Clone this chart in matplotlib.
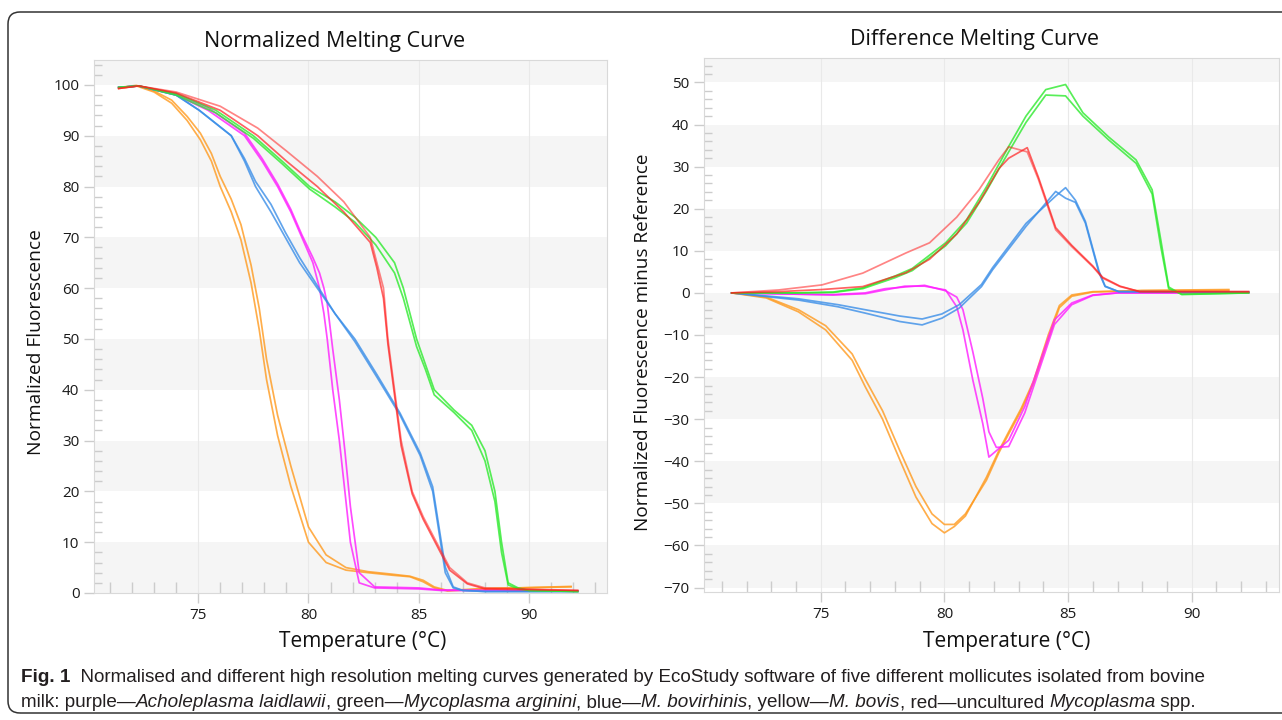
import matplotlib.pyplot as plt
from matplotlib.patches import FancyBboxPatch
from matplotlib.transforms import IdentityTransform
from matplotlib.ticker import MultipleLocator

# ---------------- normalized melting curve (2 replicate traces per isolate) -------------
norm_orange_t = [71.4, 72.2, 73.0, 73.8, 74.5, 75.1, 75.6, 76.0, 76.5, 76.94, 77.4, 77.77, 78.1,
                 78.6, 79.2, 80.0, 80.8, 81.7, 82.7, 83.8, 84.6, 85.2, 85.7, 86.3, 88.0, 91.9]
norm_orange_1 = [99.3, 99.8, 98.6, 96.4, 93.0, 89.2, 85.0, 80.0, 75.0, 69.5, 61.0, 51.8, 42.0,
                 31.0, 21.0, 10.0, 6.0, 4.5, 4.0, 3.5, 3.2, 2.2, 1.0, 0.4, 0.8, 1.3]
norm_orange_2 = [99.5, 99.9, 98.8, 97.0, 93.8, 90.5, 86.5, 82.0, 77.5, 72.5, 64.5, 56.0, 46.0,
                 35.0, 25.0, 13.0, 7.5, 5.0, 4.2, 3.7, 3.3, 2.5, 1.2, 0.5, 0.9, 1.2]

norm_magenta_t = [71.4, 72.3, 74.0, 75.45, 77.1, 77.9, 78.6, 79.2, 79.7, 80.2, 80.5, 80.7, 80.85,
                  81.1, 81.4, 81.65, 81.9, 82.3, 83.0, 85.0, 86.0, 92.2]
norm_magenta_1 = [99.5, 99.8, 98.0, 95.0, 90.0, 85.0, 80.0, 75.0, 70.0, 65.0, 60.0, 55.0, 50.0,
                  40.0, 30.0, 20.0, 10.0, 2.0, 1.0, 0.8, 0.5, 0.4]
norm_magenta_2 = [99.5, 99.8, 98.2, 95.5, 90.5, 85.5, 80.5, 75.5, 70.5, 66.0, 63.0, 60.0, 57.0,
                  48.0, 38.0, 28.0, 17.0, 4.0, 1.2, 1.0, 0.6, 0.4]

norm_blue_t = [71.4, 72.3, 74.0, 75.05, 76.5, 77.1, 77.6, 78.3, 78.95, 79.6, 80.4, 81.2, 82.1,
               83.1, 84.15, 85.07, 85.63, 86.2, 86.56, 87.0, 88.0, 92.2]
norm_blue_1 = [99.5, 99.8, 98.0, 95.0, 90.0, 85.0, 80.0, 75.0, 70.0, 65.0, 60.0, 55.0, 50.0,
               43.0, 35.4, 27.5, 20.9, 5.1, 1.2, 0.5, 0.3, 0.3]
norm_blue_2 = [99.5, 99.8, 98.0, 95.0, 90.0, 85.5, 81.0, 76.5, 71.0, 66.0, 60.5, 55.0, 49.5,
               42.5, 35.0, 27.0, 20.0, 4.0, 1.0, 0.5, 0.3, 0.3]

norm_green_t = [71.4, 72.3, 74.0, 75.8, 77.5, 78.8, 80.05, 81.2, 82.1, 83.05, 83.9, 84.3, 84.9,
                85.3, 85.7, 86.6, 87.4, 88.0, 88.45, 88.75, 89.05, 89.5, 90.0, 92.2]
norm_green_1 = [99.5, 99.8, 98.3, 95.0, 90.0, 85.0, 80.0, 77.0, 74.0, 70.0, 65.0, 60.0, 50.0,
                45.0, 40.0, 36.0, 33.0, 28.0, 20.0, 10.0, 2.0, 1.0, 0.5, 0.3]
norm_green_2 = [99.5, 99.8, 98.0, 94.5, 89.5, 84.5, 79.5, 76.0, 73.0, 68.5, 63.0, 58.0, 48.5,
                44.0, 39.0, 35.5, 32.0, 26.0, 18.0, 8.0, 1.6, 0.8, 0.5, 0.3]

norm_red_t = [71.4, 72.3, 74.0, 76.0, 77.7, 79.0, 80.4, 81.6, 82.8, 83.1, 83.4, 83.6, 83.9,
              84.2, 84.7, 85.2, 85.8, 86.4, 87.2, 88.0, 92.2]
norm_red_1 = [99.3, 99.8, 98.6, 95.8, 91.5, 87.0, 82.0, 77.0, 70.0, 65.0, 60.0, 50.0, 40.0,
              30.0, 20.0, 15.0, 10.0, 5.0, 2.0, 1.0, 0.5]
norm_red_2 = [99.3, 99.8, 98.4, 95.0, 90.0, 85.0, 80.0, 75.0, 69.0, 64.0, 58.0, 49.0, 39.0,
              29.0, 19.5, 14.5, 9.5, 4.5, 1.8, 0.8, 0.5]

# ---------------- difference melting curve ----------------
diff_orange_t = [71.4, 72.8, 74.1, 75.2, 76.27, 76.8, 77.5, 78.2, 78.85, 79.5, 80.0, 80.4, 80.85,
                 81.7, 82.2, 82.6, 83.1, 83.6, 84.2, 84.65, 85.15, 86.0, 88.0, 91.5]
diff_orange_1 = [0, -1.2, -4.5, -8.8, -16, -22.3, -30, -39.7, -48.5, -54.8, -57, -55.5, -53,
                 -43.8, -37.5, -33, -27.5, -21, -10, -3, -0.5, 0.3, 0.5, 0.6]
diff_orange_2 = [0, -1.0, -4.0, -7.8, -14.5, -20.5, -28, -37.5, -46, -52.5, -55, -55, -52.5,
                 -44.5, -38, -33.5, -28, -21.5, -11, -3.5, -0.8, 0.2, 0.6, 0.8]

diff_magenta_t = [71.4, 74.0, 75.5, 76.8, 77.6, 78.4, 79.2, 80.05, 80.5, 80.75, 81.15, 81.55, 81.8,
                  82.1, 82.6, 83.25, 84.45, 85.15, 86.0, 87.0, 92.3]
diff_magenta_1 = [0, -0.3, -0.5, -0.2, 0.7, 1.6, 1.6, 0.7, -3.3, -8.8, -20.7, -31, -39,
                  -37.5, -35, -27, -6.4, -2.4, -0.5, 0, 0]
diff_magenta_2 = [0, -0.3, -0.4, 0.0, 1.0, 1.4, 1.8, 0.5, -1.0, -4.0, -14.0, -25.0, -33.0,
                  -36.7, -36.5, -28.5, -7.5, -2.8, -0.6, 0, 0]

diff_blue_t = [71.4, 74.1, 75.7, 76.8, 78.2, 79.1, 79.9, 80.6, 81.5, 81.95, 83.3, 84.5, 84.9,
               85.3, 85.7, 86.25, 86.5, 87.05, 92.3]
diff_blue_1 = [0, -1.7, -3.3, -4.8, -6.8, -7.6, -6.0, -3.6, 1.5, 5.5, 15.8, 24.1, 22.5,
               21.5, 16.6, 4.8, 1.5, 0.3, 0.2]
diff_blue_2 = [0, -1.4, -2.8, -4.0, -5.5, -6.2, -5.0, -2.8, 2.0, 6.0, 16.5, 23.0, 25.0,
               22.0, 17.0, 5.2, 1.6, 0.3, 0.2]

diff_green_t = [71.4, 74.0, 75.5, 76.7, 78.0, 78.7, 80.05, 80.9, 81.7, 82.6, 83.3, 84.1, 84.9,
                85.6, 86.65, 87.75, 88.4, 88.75, 89.07, 89.6, 92.3]
diff_green_1 = [0, 0, 0.2, 1.2, 4.0, 5.8, 11.9, 17.4, 25.2, 34.8, 42.0, 48.3, 49.5,
                42.8, 37.0, 31.6, 24.5, 12.6, 1.4, -0.4, 0]
diff_green_2 = [0, 0, 0.1, 1.0, 3.6, 5.3, 11.2, 16.6, 24.2, 33.5, 40.5, 47.0, 46.8,
                42.0, 36.3, 30.8, 23.5, 11.0, 1.0, -0.3, 0]

diff_red_t = [71.4, 73.3, 75.05, 76.7, 78.45, 79.4, 80.5, 81.4, 82.2, 82.6, 83.35, 83.8, 84.5,
              85.15, 86.0, 86.4, 87.1, 87.9, 92.3]
diff_red_1 = [0, 0.7, 1.9, 4.7, 9.5, 11.9, 18.0, 24.5, 31.6, 34.7, 33.5, 27, 15,
              11, 6.2, 3.5, 1.5, 0.3, 0.3]
diff_red_2 = [0, 0.3, 0.8, 1.5, 4.8, 8.0, 14.0, 21.5, 29.5, 32.0, 34.5, 27.5, 15.5,
              11.3, 6.4, 3.7, 1.6, 0.3, 0.3]

ORANGE = '#ff9a1e'
MAGENTA = '#ff1eff'
BLUE = '#3a8ee8'
GREEN = '#2eea2e'
RED = '#ff2020'
LW = 1.25

plt.rcParams['font.family'] = ['Open Sans', 'DejaVu Sans']


def style_panel(ax, ylim, yticks, bands):
    ax.set_xlim(70.28, 93.53)
    ax.set_ylim(*ylim)
    for lo, hi in bands:
        ax.axhspan(lo, hi, color='#f5f5f5', lw=0, zorder=0)
    ax.set_xticks([75, 80, 85, 90])
    ax.set_yticks(yticks)
    ax.xaxis.set_minor_locator(MultipleLocator(1))
    ax.yaxis.set_minor_locator(MultipleLocator(2))
    ax.grid(axis='x', which='major', color='#e9e9e9', lw=0.8, zorder=0.5)
    ax.set_axisbelow(True)
    # major ticks point out, minor ticks point into the plot
    ax.tick_params(which='major', direction='out', color='#cccccc', length=7, width=1,
                   labelsize=11, labelcolor='#1a1a1a', pad=3.5)
    ax.tick_params(axis='x', which='minor', direction='in', color='#cccccc', length=8, width=1)
    ax.tick_params(axis='y', which='minor', direction='in', color='#cccccc', length=6, width=1)
    for s in ax.spines.values():
        s.set_color('#d9d9d9')


def draw(ax, t, a, b, color, alpha_a=0.8, alpha_b=0.8):
    ax.plot(t, a, color=color, lw=LW, alpha=alpha_a, zorder=3)
    ax.plot(t, b, color=color, lw=LW, alpha=alpha_b, zorder=3)


fig = plt.figure(figsize=(12.82, 7.2), dpi=100)
ax1 = fig.add_axes([94 / 1282, 1 - 593 / 720, (607 - 94) / 1282, (593 - 60) / 720])
ax2 = fig.add_axes([704 / 1282, 1 - 592 / 720, (1279 - 704) / 1282, (592 - 58) / 720])

style_panel(ax1, (0, 104.9), range(0, 101, 10),
            [(0, 10), (20, 30), (40, 50), (60, 70), (80, 90), (100, 110)])
style_panel(ax2, (-71.05, 55.8), range(-70, 51, 10),
            [(-70, -60), (-50, -40), (-30, -20), (-10, 0), (10, 20), (30, 40), (50, 60)])

draw(ax1, norm_orange_t, norm_orange_1, norm_orange_2, ORANGE)
draw(ax1, norm_magenta_t, norm_magenta_1, norm_magenta_2, MAGENTA)
draw(ax1, norm_blue_t, norm_blue_1, norm_blue_2, BLUE)
draw(ax1, norm_green_t, norm_green_1, norm_green_2, GREEN)
draw(ax1, norm_red_t, norm_red_1, norm_red_2, RED, alpha_a=0.55, alpha_b=0.7)

draw(ax2, diff_orange_t, diff_orange_1, diff_orange_2, ORANGE)
draw(ax2, diff_magenta_t, diff_magenta_1, diff_magenta_2, MAGENTA)
draw(ax2, diff_blue_t, diff_blue_1, diff_blue_2, BLUE)
draw(ax2, diff_green_t, diff_green_1, diff_green_2, GREEN)
draw(ax2, diff_red_t, diff_red_1, diff_red_2, RED, alpha_a=0.55, alpha_b=0.7)

# titles and axis labels
fig.text(335 / 1282, 1 - 41 / 720, 'Normalized Melting Curve', ha='center', va='center',
         fontsize=15.5, color='#111111')
fig.text(974 / 1282, 1 - 39 / 720, 'Difference Melting Curve', ha='center', va='center',
         fontsize=15.5, color='#111111')
fig.text(36 / 1282, 1 - 342 / 720, 'Normalized Fluorescence', rotation=90, ha='center',
         va='center', fontsize=13.8, color='#111111')
fig.text(643 / 1282, 1 - 342 / 720, 'Normalized Fluorescence minus Reference', rotation=90,
         ha='center', va='center', fontsize=13.7, color='#111111')
fig.text(363 / 1282, 1 - 641 / 720, 'Temperature (°C)', ha='center', va='center',
         fontsize=15, color='#111111')
fig.text(1007 / 1282, 1 - 642 / 720, 'Temperature (°C)', ha='center', va='center',
         fontsize=15, color='#111111')

# outer rounded frame
box = FancyBboxPatch((8, 720 - 713), 1300, 701, boxstyle='round,pad=0,rounding_size=12',
                     transform=IdentityTransform(), fill=False, ec='#333333', lw=1.1)
fig.add_artist(box)

# caption, written piece by piece on one baseline so italics and bold can be mixed
cap_kw = dict(fontsize=13.6, color='#231f20', family=['Liberation Sans', 'DejaVu Sans'])

line1 = [('Fig. 1', 'normal', 'bold'),
         ('  Normalised and different high resolution melting curves generated by EcoStudy '
          'software of five different mollicutes isolated from bovine', 'normal', 'normal')]
line2 = [('milk: purple—', 'normal', 'normal'),
         ('Acholeplasma laidlawii', 'italic', 'normal'),
         (', green—', 'normal', 'normal'),
         ('Mycoplasma arginini', 'italic', 'normal'),
         (', blue—', 'normal', 'normal'),
         ('M. bovirhinis', 'italic', 'normal'),
         (', yellow—', 'normal', 'normal'),
         ('M. bovis', 'italic', 'normal'),
         (', red—uncultured ', 'normal', 'normal'),
         ('Mycoplasma', 'italic', 'normal'),
         (' spp.', 'normal', 'normal')]

renderer = fig.canvas.get_renderer()


def chain_text(x_px, y_px, pieces):
    x = x_px
    for txt, st, wt in pieces:
        t = fig.text(x / 1282, 1 - y_px / 720, txt, va='baseline', ha='left',
                     style=st, weight=wt, **cap_kw)
        x = t.get_window_extent(renderer).x1


chain_text(21, 682, line1)
chain_text(21, 707, line2)

fig.savefig('out.png', dpi=100)
